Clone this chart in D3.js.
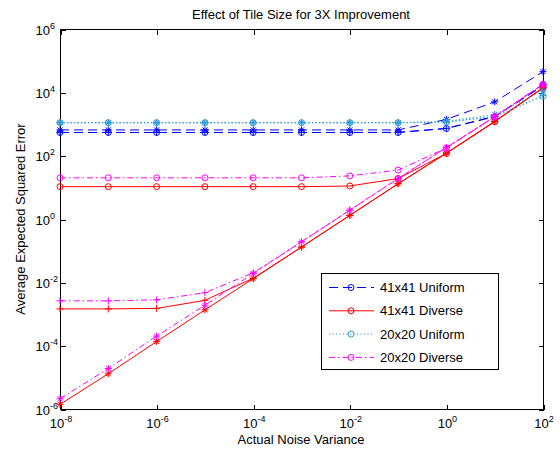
<!DOCTYPE html>
<html>
<head>
<meta charset="utf-8">
<script src="https://cdn.jsdelivr.net/npm/d3@7"></script>
<style>
  html, body { margin: 0; padding: 0; background: #fff; }
  svg { display: block; font-family: Arial, "Liberation Sans", sans-serif; }
</style>
</head>
<body>
<svg id="chart" width="560" height="452"></svg>
<script>
// ---- data ----
const noiseVariance = [1e-8, 1e-7, 1e-6, 1e-5, 1e-4, 1e-3, 1e-2, 1e-1, 1e0, 1e1, 1e2];

const uni41_o = [540, 540, 540, 540, 540, 540, 540, 540, 720, 1700, 16000];
const uni41_p = [540, 540, 540, 540, 540, 540, 540, 545, 730, 1750, 16000];
const uni41_s = [650, 650, 650, 650, 650, 650, 650, 650, 1400, 5000, 45000];

const div41_o = [10.5, 10.5, 10.5, 10.5, 10.5, 10.5, 11, 19, 118, 1180, 13700];
const div41_p = [1.45e-3, 1.45e-3, 1.5e-3, 2.7e-3, 1.35e-2, 0.13, 1.3, 13, 120, 1200, 14000];
const div41_s = [1.4e-6, 1.3e-5, 1.35e-4, 1.35e-3, 1.3e-2, 0.13, 1.3, 13, 120, 1200, 14000];

const uni20_o = [1100, 1100, 1100, 1100, 1100, 1100, 1100, 1100, 1150, 1700, 7500];
const uni20_p = [1100, 1100, 1100, 1100, 1100, 1100, 1100, 1100, 1150, 1750, 8000];
const uni20_s = [1100, 1100, 1100, 1100, 1100, 1100, 1100, 1100, 1200, 2000, 11000];

const div20_o = [20, 20, 20, 20, 20, 20, 23, 35, 175, 1700, 18000];
const div20_p = [2.6e-3, 2.6e-3, 2.8e-3, 4.7e-3, 2.0e-2, 0.19, 1.9, 19, 180, 1700, 18000];
const div20_s = [2.1e-6, 1.9e-5, 2.0e-4, 1.9e-3, 1.9e-2, 0.19, 1.9, 19, 180, 1700, 18000];

const legendLabels = ["41x41 Uniform", "41x41 Diverse", "20x20 Uniform", "20x20 Diverse"];
const xTickExponents = [-8, -6, -4, -2, 0, 2];
const yTickExponents = [-6, -4, -2, 0, 2, 4, 6];
const titleText = "Effect of Tile Size for 3X Improvement";
const xLabelText = "Actual Noise Variance";
const yLabelText = "Average Expected Squared Error";

// ---- styles ----
const groups = [
  { label: legendLabels[0], color: "#0000ff", dash: "9,5", series: [uni41_o, uni41_p, uni41_s] },
  { label: legendLabels[1], color: "#ff0000", dash: null, series: [div41_o, div41_p, div41_s] },
  { label: legendLabels[2], color: "#2b9bd6", dash: "1.2,2.3", series: [uni20_o, uni20_p, uni20_s] },
  { label: legendLabels[3], color: "#ff00ff", dash: "6,3,1.5,3", series: [div20_o, div20_p, div20_s] }
];
const markerTypes = ["o", "+", "*"];

const L = 60, R = 543, T = 29, B = 409;
const svg = d3.select("#chart");
const x = d3.scaleLog().domain([1e-8, 1e2]).range([L, R]);
const y = d3.scaleLog().domain([1e-6, 1e6]).range([B, T]);

// frame
svg.append("rect").attr("x", L + 0.5).attr("y", T + 0.5)
  .attr("width", R - L).attr("height", B - T)
  .attr("fill", "#fff").attr("stroke", "#000").attr("stroke-width", 1);

function styleAxis(g) {
  g.select(".domain").remove();
  g.selectAll(".tick line").attr("stroke", "#000").attr("shape-rendering", "crispEdges");
  g.selectAll(".tick text").remove();
}
const xVals = xTickExponents.map(e => Math.pow(10, e));
const yVals = yTickExponents.map(e => Math.pow(10, e));

const gxB = svg.append("g").attr("transform", `translate(0.5,${B + 0.5})`)
  .call(d3.axisBottom(x).tickValues(xVals).tickSizeInner(-5).tickSizeOuter(0).tickFormat(() => ""));
styleAxis(gxB);
const gxT = svg.append("g").attr("transform", `translate(0.5,${T + 0.5})`)
  .call(d3.axisTop(x).tickValues(xVals).tickSizeInner(-5).tickSizeOuter(0).tickFormat(() => ""));
styleAxis(gxT);
const gyL = svg.append("g").attr("transform", `translate(${L + 0.5},0.5)`)
  .call(d3.axisLeft(y).tickValues(yVals).tickSizeInner(-5).tickSizeOuter(0).tickFormat(() => ""));
styleAxis(gyL);
const gyR = svg.append("g").attr("transform", `translate(${R + 0.5},0.5)`)
  .call(d3.axisRight(y).tickValues(yVals).tickSizeInner(-5).tickSizeOuter(0).tickFormat(() => ""));
styleAxis(gyR);

// tick labels (10 with superscript exponent)
gxB.selectAll(".tick").each(function (d) {
  const e = Math.round(Math.log10(d));
  const t = d3.select(this).append("text").attr("text-anchor", "middle")
    .attr("y", 18).attr("fill", "#000").attr("font-size", 13);
  t.append("tspan").text("10");
  t.append("tspan").attr("font-size", 9).attr("dy", -6).text(String(e).replace("-", "-"));
});
gyL.selectAll(".tick").each(function (d) {
  const e = Math.round(Math.log10(d));
  const t = d3.select(this).append("text").attr("text-anchor", "start")
    .attr("x", -25).attr("y", 4.5).attr("fill", "#000").attr("font-size", 13);
  t.append("tspan").text("10");
  t.append("tspan").attr("font-size", 9).attr("dy", -6).text(String(e));
});

// lines and markers
const line = d3.line().x((d, i) => x(noiseVariance[i])).y(d => y(d));
function marker(g, type, cx, cy, color) {
  if (type === "o") {
    g.append("circle").attr("cx", cx).attr("cy", cy).attr("r", 3)
      .attr("fill", "none").attr("stroke", color).attr("stroke-width", 1);
  } else if (type === "+") {
    g.append("path").attr("d", `M${cx - 3.5},${cy}H${cx + 3.5}M${cx},${cy - 3.5}V${cy + 3.5}`)
      .attr("stroke", color).attr("stroke-width", 1).attr("fill", "none");
  } else {
    const a = 2.5;
    g.append("path").attr("d",
      `M${cx - 3.5},${cy}H${cx + 3.5}M${cx},${cy - 3.5}V${cy + 3.5}M${cx - a},${cy - a}L${cx + a},${cy + a}M${cx - a},${cy + a}L${cx + a},${cy - a}`)
      .attr("stroke", color).attr("stroke-width", 1).attr("fill", "none");
  }
}

const plot = svg.append("g");
groups.forEach(gr => {
  gr.series.forEach((vals, si) => {
    plot.append("path").datum(vals).attr("d", line)
      .attr("fill", "none").attr("stroke", gr.color).attr("stroke-width", 1)
      .attr("stroke-dasharray", gr.dash);
    vals.forEach((v, i) => marker(plot, markerTypes[si], x(noiseVariance[i]), y(v), gr.color));
  });
});

// title and labels
svg.append("text").attr("x", 301).attr("y", 19).attr("text-anchor", "middle")
  .attr("font-size", 13).attr("fill", "#000").text(titleText);
svg.append("text").attr("x", 301).attr("y", 444).attr("text-anchor", "middle")
  .attr("font-size", 13).attr("fill", "#000").text(xLabelText);
svg.append("text").attr("transform", "translate(25,219) rotate(-90)").attr("text-anchor", "middle")
  .attr("font-size", 13).attr("fill", "#000").text(yLabelText);

// legend
const lg = svg.append("g");
lg.append("rect").attr("x", 321.5).attr("y", 273.5).attr("width", 177).attr("height", 96)
  .attr("fill", "#fff").attr("stroke", "#000").attr("stroke-width", 1);
groups.forEach((gr, i) => {
  const cy = 287.5 + i * 23.3;
  lg.append("line").attr("x1", 329).attr("x2", 374).attr("y1", cy).attr("y2", cy)
    .attr("stroke", gr.color).attr("stroke-width", 1).attr("stroke-dasharray", gr.dash);
  marker(lg, "o", 351, cy, gr.color);
  lg.append("text").attr("x", 380).attr("y", cy + 4.5).attr("font-size", 13)
    .attr("fill", "#000").text(gr.label);
});
</script>
</body>
</html>
